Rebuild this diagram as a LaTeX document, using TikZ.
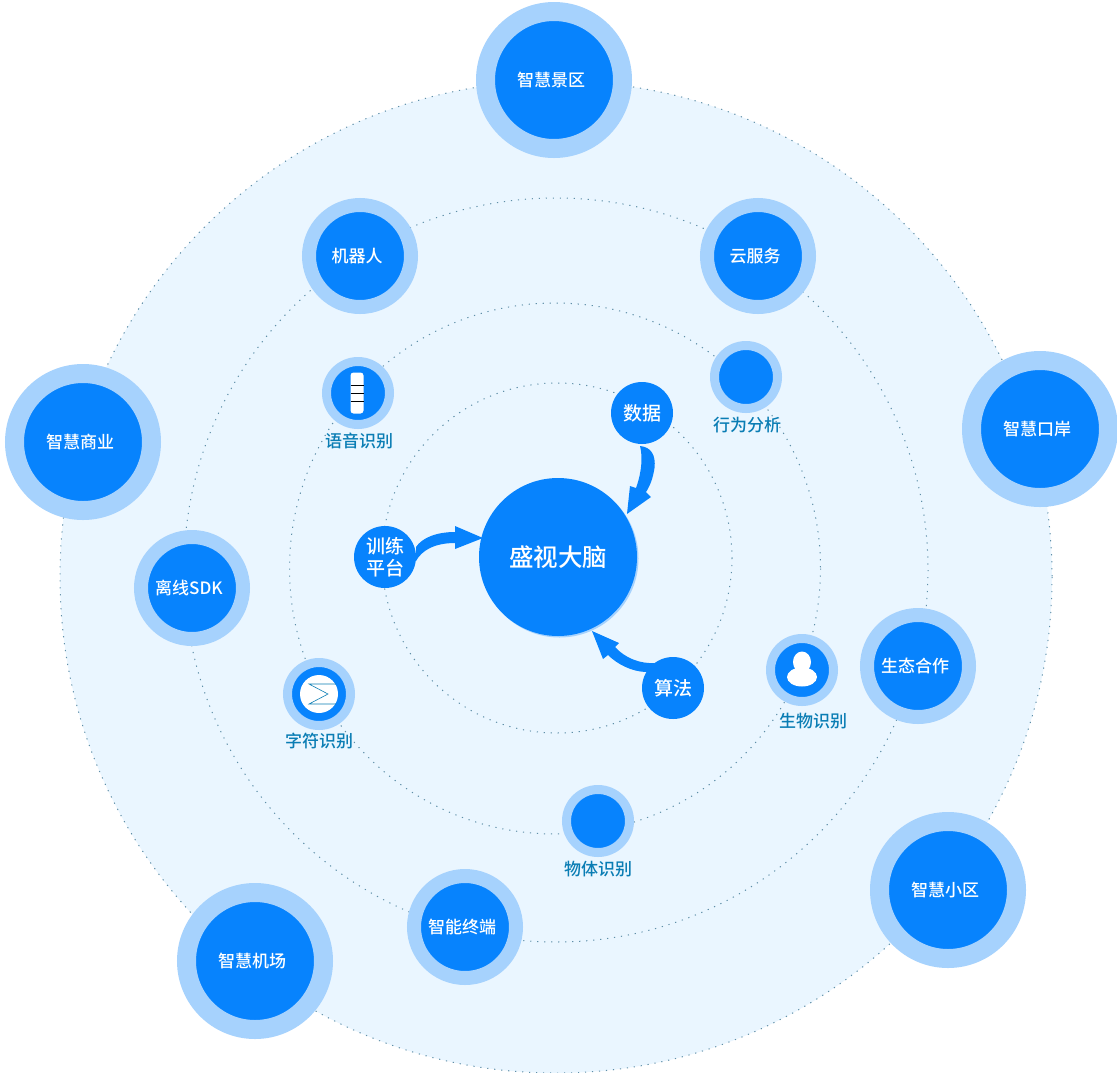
\documentclass[tikz,border=0pt]{standalone}
\usepackage{fontspec}
\setmainfont[BoldFont={Noto Sans CJK SC Medium}]{Noto Sans CJK SC}
\definecolor{coreblue}{HTML}{0783FD}
\definecolor{halo}{HTML}{A6D2FD}
\definecolor{disk}{HTML}{EAF6FF}
\definecolor{ringline}{HTML}{5F8FA8}
\definecolor{caption}{HTML}{0A7DB4}
\tikzset{
  ring/.style={draw=ringline,line width=1pt,dash pattern=on 1.2pt off 5.8pt},
  bighub/.style={circle,fill=coreblue,draw=halo,line width=19pt,minimum size=137pt,inner sep=0pt,text=white,font=\fontsize{17}{18}\selectfont\bfseries,execute at end node={\kern6pt}},
  midhub/.style={circle,fill=coreblue,draw=halo,line width=14pt,minimum size=102pt,inner sep=0pt,text=white,font=\fontsize{17}{18}\selectfont\bfseries,execute at end node={\kern6pt}},
  smallhub/.style={circle,fill=coreblue,draw=halo,line width=9pt,minimum size=63pt,inner sep=0pt},
  corehub/.style={circle,fill=coreblue,minimum size=62pt,inner sep=0pt,text=white,align=center,font=\fontsize{19}{23}\selectfont\bfseries},
  mainhub/.style={circle,fill=coreblue,minimum size=158pt,inner sep=0pt,text=white,font=\fontsize{24.5}{26}\selectfont\bfseries},
  smallcap/.style={text=caption,inner sep=0pt,font=\fontsize{17}{18}\selectfont\bfseries},
  flow/.style={fill=coreblue,draw=none},
  iconwhite/.style={fill=white,draw=none}
}
\begin{document}
\begin{tikzpicture}[x=1pt,y=-1pt]
\useasboundingbox (0,0) rectangle (1117,1072);
\fill[white] (0,0) rectangle (1117,1072);
\fill[disk] (556,577) circle (496);
\draw[ring] (556,577) circle (496);
\draw[ring] (556,570) circle (372);
\draw[ring] (555,568.5) circle (265.5);
\draw[ring] (557,558) circle (175);

\node[bighub] (jingqu) at (554,80) {智慧景区};
\node[bighub] (kouan) at (1040,429) {智慧口岸};
\node[bighub] (xiaoqu) at (948,890) {智慧小区};
\node[bighub] (jichang) at (255,961) {智慧机场};
\node[bighub] (shangye) at (83,442) {智慧商业};

\node[midhub] (jiqiren) at (360,256) {机器人};
\node[midhub] (yunfuwu) at (758,256) {云服务};
\node[midhub] (shengtai) at (918,666) {生态合作};
\node[midhub] (zhongduan) at (465,927) {智能终端};
\node[midhub] (lixian) at (192,588) {离线SDK};

\node[smallhub] (yuyin) at (358,393) {};
\node[smallhub] (xingwei) at (746,377) {};
\node[smallhub] (shengwu) at (802,670) {};
\node[smallhub] (wuti) at (598,821) {};
\node[smallhub] (zifu) at (319,694) {};

\node[smallcap] (yuyincap) at (359,441) {语音识别};
\node[smallcap] (xingweicap) at (747,425) {行为分析};
\node[smallcap] (shengwucap) at (813,721) {生物识别};
\node[smallcap] (wuticap) at (598,869) {物体识别};
\node[smallcap] (zifucap) at (319,741) {字符识别};

% speech icon
\fill[iconwhite,rounded corners=3pt] (350.5,372.5) rectangle (363.5,413.5);
\draw[black,line width=0.8pt] (350.5,385) -- (363.5,385) (350.5,393) -- (363.5,393) (350.5,401) -- (363.5,401);
% sigma icon
\fill[iconwhite] (zifu.center) circle (19);
\draw[caption,line width=0.6pt] (336,684) -- (309,684) -- (328,694) -- (309,704) -- (336,704);
% user icon
\fill[iconwhite] (802,662) ellipse (9 and 10.5);
\fill[iconwhite] (802,677) ellipse (15 and 9.5);

% main
\fill[halo] (559.5,558.5) circle (79);
\node[mainhub] (brain) at (558,557) {盛视大脑};
\node[corehub] (shuju) at (642,413) {数据};
\node[corehub] (xunlian) at (385,557) {训练\\[-1pt]平台};
\node[corehub] (suanfa) at (673,688) {算法};

\fill[flow] (640,446) .. controls (651,447) and (656,455) .. (654.5,468) .. controls (653,478) and (650,486) .. (646,492)
  -- (651,497) -- (627,514) -- (630,486) -- (636,488) .. controls (639,480) and (644,462) .. (640,446) -- cycle;
\fill[flow] (416,561) .. controls (422,550) and (435,543) .. (455,543) -- (455,549) -- (483,538) -- (455,526) -- (455,532)
  .. controls (436,532) and (422,538) .. (416,547) -- cycle;
\fill[flow] (655,663) .. controls (640,664) and (625,658) .. (615,647) -- (619,643) -- (592,631) -- (603,659) -- (608,655)
  .. controls (617,664) and (632,672) .. (647,672) -- cycle;
\end{tikzpicture}
\end{document}
